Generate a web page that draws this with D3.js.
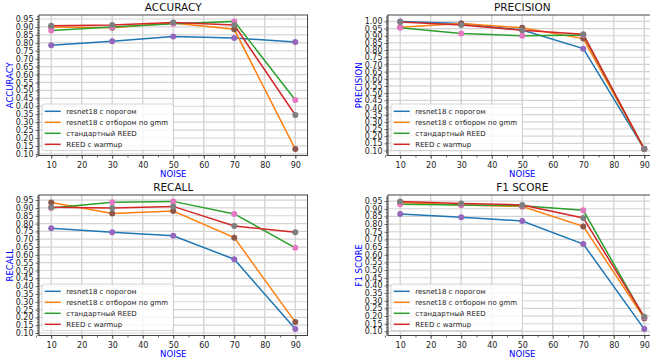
<!DOCTYPE html>
<meta charset="utf-8">
<head>
    <title>Metrics vs noise</title>
    <script src="https://cdn.jsdelivr.net/npm/d3@7"></script>
</head>
<style>
    body { margin: 0; background: white; }
    text { font-family: "DejaVu Sans", sans-serif; }
</style>
<svg id="chart"></svg>
<script>
    var vWidth = 650;
    var vHeight = 363;

    // data
    var noise = [10, 30, 50, 70, 90];
    var seriesNames = ["resnet18 с порогом", "resnet18 с отбором по gmm", "стандартный REED", "REED с warmup"];

    var accuracy = [
        [0.785, 0.81, 0.84, 0.83, 0.805],
        [0.90, 0.895, 0.925, 0.885, 0.13],
        [0.878, 0.90, 0.92, 0.935, 0.44],
        [0.908, 0.912, 0.928, 0.912, 0.345]
    ];
    var precision = [
        [1.00, 0.985, 0.94, 0.81, 0.11],
        [0.96, 0.985, 0.955, 0.88, 0.11],
        [0.955, 0.915, 0.90, 0.905, 0.11],
        [0.995, 0.975, 0.938, 0.91, 0.11]
    ];
    var recall = [
        [0.77, 0.745, 0.722, 0.572, 0.125],
        [0.935, 0.865, 0.88, 0.71, 0.17],
        [0.90, 0.937, 0.942, 0.862, 0.645],
        [0.905, 0.90, 0.91, 0.785, 0.745]
    ];
    var f1 = [
        [0.865, 0.845, 0.82, 0.67, 0.115],
        [0.94, 0.925, 0.915, 0.785, 0.185],
        [0.93, 0.925, 0.92, 0.89, 0.19],
        [0.948, 0.935, 0.925, 0.84, 0.195]
    ];

    var xTicks = [10, 20, 30, 40, 50, 60, 70, 80, 90];

    var lineColors = ["#1f77b4", "#ff7f0e", "#2ca02c", "#d62728"];
    var dotColors = ["#9467bd", "#8c564b", "#e377c2", "#7f7f7f"];

    var panels = [
        {title: "ACCURACY", data: accuracy, left: 39, top: 15},
        {title: "PRECISION", data: precision, left: 388, top: 15},
        {title: "RECALL", data: recall, left: 39, top: 195},
        {title: "F1 SCORE", data: f1, left: 388, top: 195}
    ];
    var pw = 268.5, ph = 140.5;

    var svg = d3.select('#chart').attr('width', vWidth).attr('height', vHeight);

    panels.forEach(function (p) {
        var g = svg.append('g').attr('transform', 'translate(' + p.left + ',' + p.top + ')');

        // matplotlib-like 5% margins
        var all = d3.merge(p.data);
        var lo = d3.min(all), hi = d3.max(all), pad = (hi - lo) * 0.05;
        var x = d3.scaleLinear().domain([6, 94]).range([0, pw]);
        var y = d3.scaleLinear().domain([lo - pad, hi + pad]).range([ph, 0]);

        var yTicks = d3.range(Math.ceil((lo - pad) / 0.05 - 1e-6), Math.floor((hi + pad) / 0.05 + 1e-6) + 1)
            .map(function (k) { return k * 0.05; });
        var yMinor = d3.range(Math.ceil((lo - pad) * 100), Math.floor((hi + pad) * 100) + 1)
            .map(function (k) { return k / 100; });

        // grid
        g.append('g').selectAll('line').data(yTicks).enter().append('line')
            .attr('x1', 0).attr('x2', pw)
            .attr('y1', function (d) { return y(d); }).attr('y2', function (d) { return y(d); })
            .attr('stroke', '#d4d4d4').attr('stroke-width', 1.2);
        g.append('g').selectAll('line').data(xTicks).enter().append('line')
            .attr('y1', 0).attr('y2', ph)
            .attr('x1', function (d) { return x(d); }).attr('x2', function (d) { return x(d); })
            .attr('stroke', '#d4d4d4').attr('stroke-width', 1.4);

        // axes
        var yAxis = g.append('g').call(d3.axisLeft(y).tickValues(yTicks).tickSize(3.5).tickPadding(2)
            .tickFormat(d3.format('.2f')));
        var yAxisMinor = g.append('g').call(d3.axisLeft(y).tickValues(yMinor).tickSize(2).tickFormat(''));
        var xAxis = g.append('g').attr('transform', 'translate(0,' + ph + ')')
            .call(d3.axisBottom(x).tickValues(xTicks).tickSize(3.5).tickPadding(3).tickFormat(d3.format('d')));
        var xAxisMinor = g.append('g').attr('transform', 'translate(0,' + ph + ')')
            .call(d3.axisBottom(x).tickValues(d3.range(5, 95, 5)).tickSize(2).tickFormat(''));
        [yAxis, yAxisMinor, xAxis, xAxisMinor].forEach(function (a) {
            a.select('.domain').remove();
            a.selectAll('line').attr('stroke', '#444').attr('stroke-width', 0.8);
            a.selectAll('text').attr('fill', '#222').style('font-size', '8px');
        });

        // lines
        var line = d3.line().x(function (d, i) { return x(noise[i]); }).y(function (d) { return y(d); });
        p.data.forEach(function (s, k) {
            g.append('path').datum(s).attr('d', line)
                .attr('fill', 'none').attr('stroke', lineColors[k]).attr('stroke-width', 1.5);
        });
        // dots drawn after all lines
        p.data.forEach(function (s, k) {
            g.append('g').selectAll('circle').data(s).enter().append('circle')
                .attr('cx', function (d, i) { return x(noise[i]); })
                .attr('cy', function (d) { return y(d); })
                .attr('r', 3).attr('fill', dotColors[k]);
        });

        // frame
        g.append('rect').attr('width', pw).attr('height', ph)
            .attr('fill', 'none').attr('stroke', '#444').attr('stroke-width', 1);

        // legend
        var lg = g.append('g').attr('transform', 'translate(3,' + (ph - 51.5) + ')');
        lg.append('rect').attr('width', 131.5).attr('height', 46.5).attr('rx', 2)
            .attr('fill', 'white').attr('fill-opacity', 0.8).attr('stroke', '#ccc').attr('stroke-width', 0.8);
        seriesNames.forEach(function (n, k) {
            var yy = 7.3 + k * 11;
            lg.append('line').attr('x1', 2.7).attr('x2', 18.7).attr('y1', yy).attr('y2', yy)
                .attr('stroke', lineColors[k]).attr('stroke-width', 1.5);
            lg.append('text').attr('x', 24.3).attr('y', yy).attr('dy', '0.35em')
                .style('font-size', '7px').attr('fill', '#222').text(n);
        });

        // titles
        g.append('text').attr('x', pw / 2).attr('y', -4).attr('text-anchor', 'middle')
            .style('font-size', '10.5px').attr('fill', '#111').text(p.title);
        g.append('text').attr('x', pw / 2).attr('y', ph + 21).attr('text-anchor', 'middle')
            .style('font-size', '8.5px').attr('fill', 'blue').text('NOISE');
        g.append('text').attr('transform', 'translate(-26.5,' + (ph / 2) + ') rotate(-90)')
            .attr('text-anchor', 'middle').style('font-size', '8.5px').attr('fill', 'blue').text(p.title);
    });
</script>
